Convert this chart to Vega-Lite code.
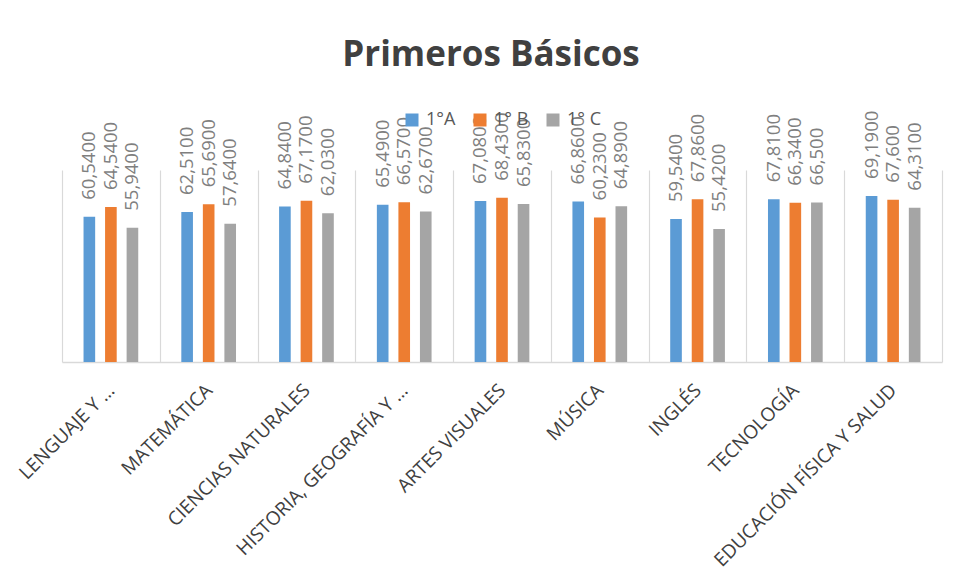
{
  "$schema": "https://vega.github.io/schema/vega-lite/v6.json",
  "width": 880,
  "height": 192,
  "autosize": {"type": "none"},
  "padding": {"left": 62, "top": 170, "right": 20, "bottom": 216},
  "background": "white",
  "title": {
    "text": "Primeros Básicos",
    "font": "Open Sans",
    "fontSize": 35,
    "fontWeight": "bold",
    "color": "#404040",
    "anchor": "middle",
    "baseline": "alphabetic",
    "dx": -11,
    "offset": 10
  },
  "data": {
    "values": [
      {"asignatura": "LENGUAJE Y …", "curso": "1°A", "valor": 60.54, "etiqueta": "60,5400"},
      {"asignatura": "LENGUAJE Y …", "curso": "1° B", "valor": 64.54, "etiqueta": "64,5400"},
      {"asignatura": "LENGUAJE Y …", "curso": "1° C", "valor": 55.94, "etiqueta": "55,9400"},
      {"asignatura": "MATEMÁTICA", "curso": "1°A", "valor": 62.51, "etiqueta": "62,5100"},
      {"asignatura": "MATEMÁTICA", "curso": "1° B", "valor": 65.69, "etiqueta": "65,6900"},
      {"asignatura": "MATEMÁTICA", "curso": "1° C", "valor": 57.64, "etiqueta": "57,6400"},
      {"asignatura": "CIENCIAS NATURALES", "curso": "1°A", "valor": 64.84, "etiqueta": "64,8400"},
      {"asignatura": "CIENCIAS NATURALES", "curso": "1° B", "valor": 67.17, "etiqueta": "67,1700"},
      {"asignatura": "CIENCIAS NATURALES", "curso": "1° C", "valor": 62.03, "etiqueta": "62,0300"},
      {"asignatura": "HISTORIA, GEOGRAFÍA Y …", "curso": "1°A", "valor": 65.49, "etiqueta": "65,4900"},
      {"asignatura": "HISTORIA, GEOGRAFÍA Y …", "curso": "1° B", "valor": 66.57, "etiqueta": "66,5700"},
      {"asignatura": "HISTORIA, GEOGRAFÍA Y …", "curso": "1° C", "valor": 62.67, "etiqueta": "62,6700"},
      {"asignatura": "ARTES VISUALES", "curso": "1°A", "valor": 67.08, "etiqueta": "67,0800"},
      {"asignatura": "ARTES VISUALES", "curso": "1° B", "valor": 68.43, "etiqueta": "68,4300"},
      {"asignatura": "ARTES VISUALES", "curso": "1° C", "valor": 65.83, "etiqueta": "65,8300"},
      {"asignatura": "MÚSICA", "curso": "1°A", "valor": 66.86, "etiqueta": "66,8600"},
      {"asignatura": "MÚSICA", "curso": "1° B", "valor": 60.23, "etiqueta": "60,2300"},
      {"asignatura": "MÚSICA", "curso": "1° C", "valor": 64.89, "etiqueta": "64,8900"},
      {"asignatura": "INGLÉS", "curso": "1°A", "valor": 59.54, "etiqueta": "59,5400"},
      {"asignatura": "INGLÉS", "curso": "1° B", "valor": 67.86, "etiqueta": "67,8600"},
      {"asignatura": "INGLÉS", "curso": "1° C", "valor": 55.42, "etiqueta": "55,4200"},
      {"asignatura": "TECNOLOGÍA", "curso": "1°A", "valor": 67.81, "etiqueta": "67,8100"},
      {"asignatura": "TECNOLOGÍA", "curso": "1° B", "valor": 66.34, "etiqueta": "66,3400"},
      {"asignatura": "TECNOLOGÍA", "curso": "1° C", "valor": 66.5, "etiqueta": "66,500"},
      {"asignatura": "EDUCACIÓN FÍSICA Y SALUD", "curso": "1°A", "valor": 69.19, "etiqueta": "69,1900"},
      {"asignatura": "EDUCACIÓN FÍSICA Y SALUD", "curso": "1° B", "valor": 67.6, "etiqueta": "67,600"},
      {"asignatura": "EDUCACIÓN FÍSICA Y SALUD", "curso": "1° C", "valor": 64.31, "etiqueta": "64,3100"}
    ]
  },
  "encoding": {
    "x": {
      "field": "asignatura",
      "type": "nominal",
      "sort": null,
      "scale": {"paddingInner": 0, "paddingOuter": 0},
      "axis": {
        "title": null,
        "labelAngle": -45,
        "labelAlign": "right",
        "labelBaseline": "middle",
        "labelFont": "Open Sans",
        "labelFontSize": 19,
        "labelColor": "#404040",
        "labelPadding": 25,
        "labelLimit": 0,
        "ticks": false,
        "grid": true,
        "gridColor": "#d9d9d9",
        "gridWidth": 1.2,
        "tickBand": "extent",
        "domainColor": "#d9d9d9",
        "domainWidth": 1.5
      }
    },
    "xOffset": {
      "field": "curso",
      "type": "nominal",
      "sort": ["1°A", "1° B", "1° C"],
      "scale": {"paddingInner": 0.46, "paddingOuter": 1.115}
    },
    "y": {
      "field": "valor",
      "type": "quantitative",
      "scale": {"domain": [0, 80]},
      "axis": null
    }
  },
  "layer": [
    {
      "mark": {"type": "bar"},
      "encoding": {
        "color": {
          "field": "curso",
          "type": "nominal",
          "scale": {"domain": ["1°A", "1° B", "1° C"], "range": ["#5b9bd5", "#ed7d31", "#a5a5a5"]},
          "legend": {
            "title": null,
            "orient": "none",
            "direction": "horizontal",
            "legendX": 341,
            "legendY": -59,
            "padding": 0,
            "symbolType": "square",
            "symbolSize": 169,
            "symbolStrokeWidth": 0,
            "labelFont": "Open Sans",
            "labelFontSize": 18,
            "labelColor": "#595959",
            "labelOffset": 5,
            "columnPadding": 15
          }
        }
      }
    },
    {
      "mark": {
        "type": "text",
        "angle": 270,
        "align": "left",
        "baseline": "middle",
        "dx": 17,
        "font": "Open Sans",
        "fontSize": 18.5,
        "color": "#7f7f7f"
      },
      "encoding": {"text": {"field": "etiqueta"}}
    }
  ],
  "config": {"view": {"stroke": null}}
}
